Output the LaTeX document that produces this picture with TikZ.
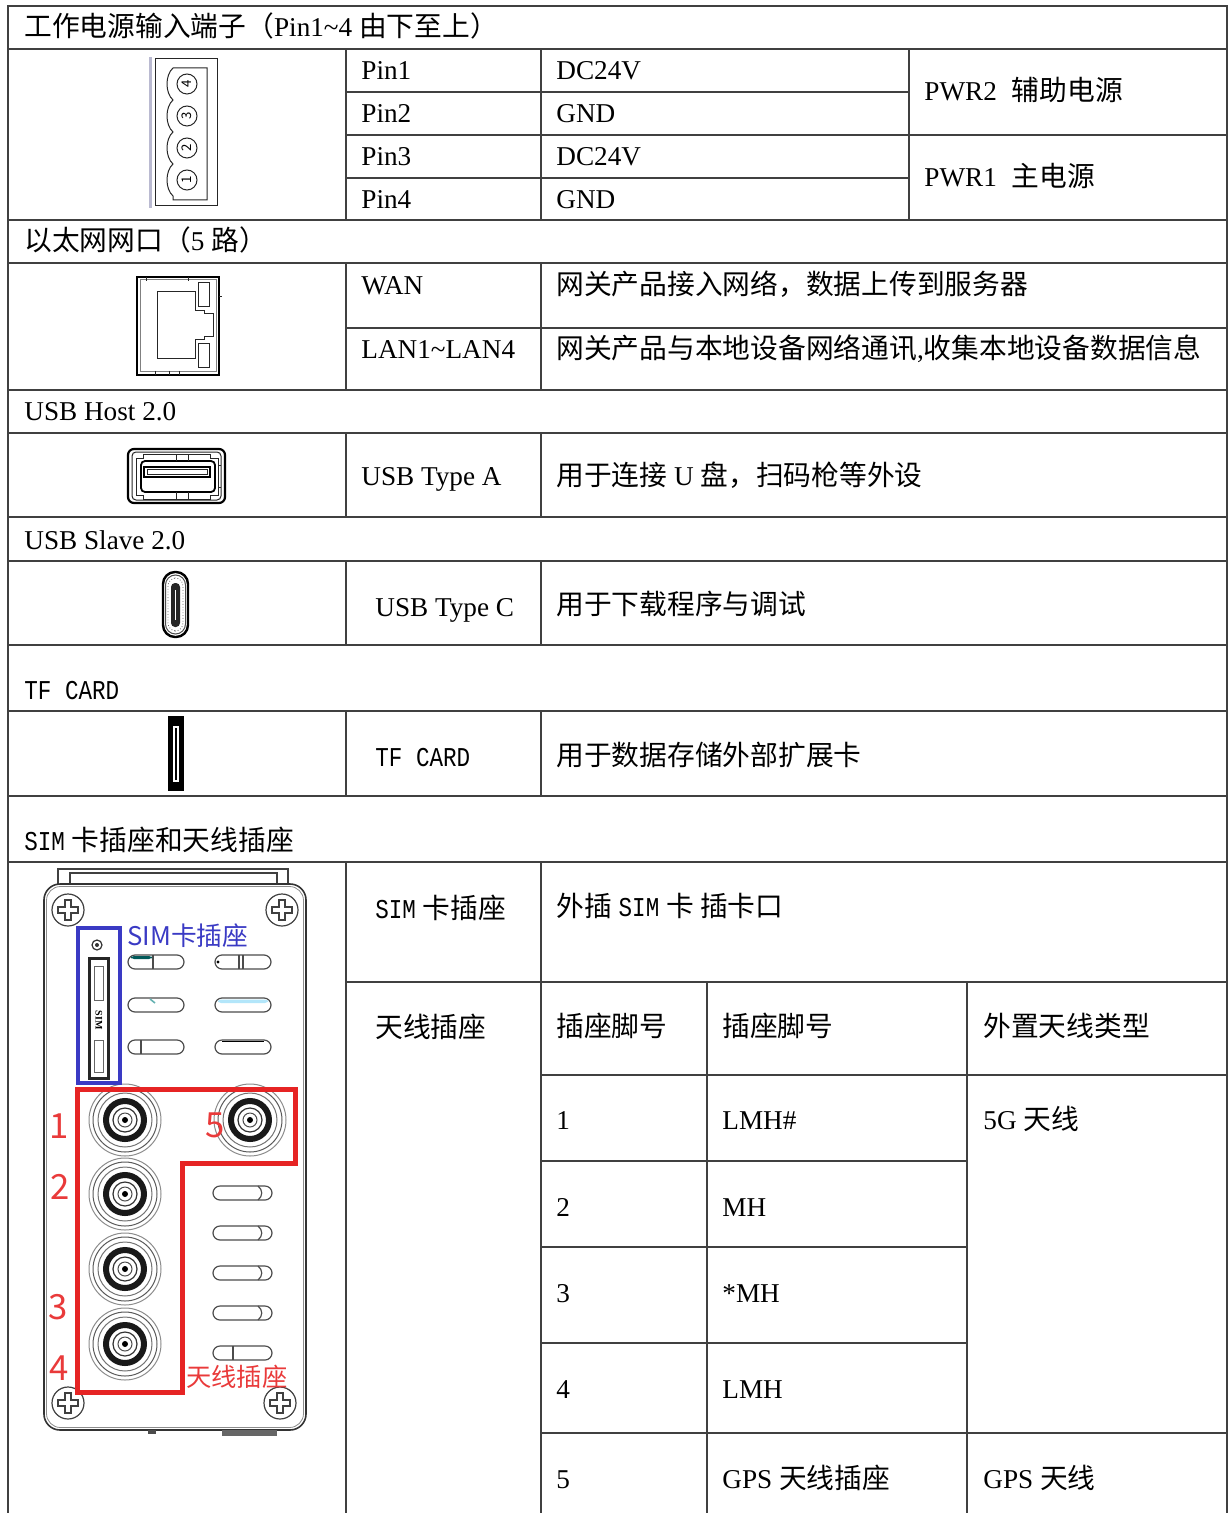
\documentclass[tikz,border=0pt]{standalone}
\usepackage{fontspec}
\setmainfont{Liberation Serif}
\newfontfamily\zhfont[Scale=1.02]{Noto Sans CJK SC}
\newfontfamily\monofont[FakeStretch=0.83]{Liberation Mono}
\newcommand{\zh}[1]{{\zhfont #1}}
\newcommand{\mono}[1]{{\monofont #1}}
\definecolor{simblue}{RGB}{58,58,196}
\definecolor{antred}{RGB}{230,36,36}

\begin{document}
\begin{tikzpicture}[x=0.5pt,y=-0.5pt,
  tabline/.style={black!75, line width=0.75pt},
  txt/.style={anchor=base west, inner sep=0pt, font=\fontsize{13.6}{16}\selectfont},
  icon/.style={black!85, line width=0.5pt},
  dev/.style={black!75, line width=0.6pt},
  slot/.style={black!70, line width=0.6pt, rounded corners=3.5pt},
  redlabel/.style={antred!90, inner sep=0pt, font=\zhfont\fontsize{17}{17}\selectfont}]
\useasboundingbox (0,0) rectangle (1228,1513);

% table rules
\draw[tabline] (8,1513) -- (8,6) -- (1227,6) -- (1227,1513);
\foreach \y in {49,220,263,390,433,517,561,645,711,796,862}
  \draw[tabline] (8,\y) -- (1227,\y);
\foreach \y in {92,178} \draw[tabline] (346,\y) -- (909,\y);
\foreach \y in {135,328,982} \draw[tabline] (346,\y) -- (1227,\y);
\foreach \y in {1075,1433} \draw[tabline] (541,\y) -- (1227,\y);
\foreach \y in {1161,1247,1343} \draw[tabline] (541,\y) -- (967,\y);
\foreach \a/\b in {49/220,263/390,433/517,561/645,711/796,862/1513} {
  \draw[tabline] (346,\a) -- (346,\b);
  \draw[tabline] (541,\a) -- (541,\b);
}
\draw[tabline] (909,49) -- (909,220);
\foreach \x in {707,967} \draw[tabline] (\x,982) -- (\x,1513);

% power
\node[txt] (pwrtitle) at (24,37) {\zh{工作电源输入端子（}Pin1\textasciitilde4 \zh{由下至上）}};
\foreach \n/\v/\y in {1/DC24V/80,2/GND/123,3/DC24V/166,4/GND/209} {
  \node[txt] (pin\n) at (361,\y) {Pin\n};
  \node[txt] (pinv\n) at (556,\y) {\v};
}
\node[txt] (pwr2) at (924,101) {PWR2\hspace{0.55em}\zh{辅助电源}};
\node[txt] (pwr1) at (924,187) {PWR1\hspace{0.55em}\zh{主电源}};

% terminal block
\fill[blue!20!gray!45] (149,57) rectangle (152,208);
\draw[icon] (155,59) rectangle (217,206);
\draw[icon] (207,68) -- (173,68)
  \foreach \y in {84,116,148,180} { .. controls (165,\y-9) and (165,\y+9) .. (173,\y+16) }
  -- (173,200) -- (207,200) -- cycle;
\foreach \n/\y in {4/84,3/116,2/148,1/180} {
  \draw[icon] (187,\y) circle (10);
  \node[rotate=90, inner sep=0pt, font=\zhfont\fontsize{6.5}{6.5}\selectfont] (tdig\n) at (187,\y) {\n};
}

% ethernet
\node[txt] (ethtitle) at (24,251) {\zh{以太网网口（}5 \zh{路）}};
\node[txt] (wan) at (361,295) {WAN};
\node[txt] (wandesc) at (556,295) {\zh{网关产品接入网络，数据上传到服务器}};
\node[txt] (lan) at (361,359) {LAN1\textasciitilde LAN4};
\node[txt] (landesc) at (556,359) {\zh{网关产品与本地设备网络通讯},\zh{收集本地设备数据信息}};

% rj45
\draw[black, line width=1.4pt] (137,277) rectangle (219,375);
\draw[black!50, line width=0.5pt] (140,280) rectangle (216,372);
\draw[icon] (157,292) -- (195,292) -- (195,311) -- (204,311) -- (204,314) -- (213,314)
  -- (213,337) -- (204,337) -- (204,340) -- (195,340) -- (195,359) -- (157,359) -- cycle;
\draw[icon] (198,283) rectangle (209,307);
\draw[icon] (198,344) rectangle (209,368);
\foreach \x in {146,188} \draw[icon] (\x,277) -- (\x,281);
\foreach \x in {155,169,179} \draw[icon] (\x,371) -- (\x,375);
\draw[icon] (219,297) -- (222,297);

% usb host
\node[txt] (hosttitle) at (24,421) {USB Host 2.0};
\node[txt] (typea) at (361,485) {USB Type A};
\node[txt] (typeadesc) at (556,485) {\zh{用于连接} U \zh{盘，扫码枪等外设}};
\draw[black, line width=1.1pt, rounded corners=3pt] (128,449) rectangle (225,503);
\draw[icon, rounded corners=2pt] (132,452) rectangle (221,500);
\draw[icon] (136,458) -- (143,458) -- (143,454) -- (210,454) -- (210,458) -- (218,458)
  -- (218,495) -- (210,495) -- (210,499) -- (143,499) -- (143,495) -- (136,495) -- cycle;
\draw[black, line width=0.9pt, rounded corners=2pt] (141,461) rectangle (215,492);
\draw[black, line width=0.8pt] (144,467) rectangle (210,477);
\draw[icon] (147,469.5) rectangle (207,474.5);
\foreach \x in {176,188} { \draw[icon] (\x,454) -- (\x,461); \draw[icon] (\x,492) -- (\x,499); }
\foreach \y in {465,487} \draw[icon] (218,\y) -- (221,\y);

% usb slave
\node[txt] (slavetitle) at (24,549) {USB Slave 2.0};
\node[txt] (typec) at (375,616) {USB Type C};
\node[txt] (typecdesc) at (556,614) {\zh{用于下载程序与调试}};
\draw[black, line width=1.2pt, rounded corners=6pt] (163,572) rectangle (188,637);
\draw[black!70, line width=0.5pt, rounded corners=5pt] (165.5,575) rectangle (185.5,634);
\draw[black!60, densely dotted, rounded corners=4pt] (168,578) rectangle (183,631);
\fill[black!85, rounded corners=2pt] (171,583) rectangle (180,627);
\draw[white, line width=0.4pt] (175.5,590) -- (175.5,620);

% tf card
\node[txt] (tftitle) at (24,699) {\mono{TF CARD}};
\node[txt] (tf) at (375,766) {\mono{TF CARD}};
\node[txt] (tfdesc) at (556,765) {\zh{用于数据存储外部扩展卡}};
\fill[black] (168,716) rectangle (184,791);
\draw[white, line width=0.6pt] (174,727) rectangle (178,781);

% sim and antenna
\node[txt] (simtitle) at (24,850) {\mono{SIM} \zh{卡插座和天线插座}};
\node[txt] (sim) at (375,918) {\mono{SIM} \zh{卡插座}};
\node[txt] (simdesc) at (556,916) {\zh{外插} \mono{SIM} \zh{卡 插卡口}};
\node[txt] (ant) at (375,1037) {\zh{天线插座}};
\node[txt] (anthead1) at (556,1036) {\zh{插座脚号}};
\node[txt] (anthead2) at (722,1036) {\zh{插座脚号}};
\node[txt] (anthead3) at (983,1036) {\zh{外置天线类型}};
\foreach \n/\v/\y in {1/LMH\#/1129,2/MH/1216,3/*MH/1302,4/LMH/1398} {
  \node[txt] (antno\n) at (556,\y) {\n};
  \node[txt] (antpin\n) at (722,\y) {\v};
}
\node[txt] (antno5) at (556,1488) {5};
\node[txt] (antpin5) at (722,1488) {GPS \zh{天线插座}};
\node[txt] (ant5g) at (983,1129) {5G \zh{天线}};
\node[txt] (antgps) at (983,1488) {GPS \zh{天线}};

% device front
\draw[dev] (58,884) -- (58,869) -- (288,869) -- (288,884);
\draw[dev] (70,884) -- (70,873) -- (277,873) -- (277,884);
\draw[black!80, line width=0.8pt, rounded corners=8pt] (44,884) rectangle (306,1430);
\draw[black!45, line width=0.4pt, rounded corners=7pt] (46.5,886.5) rectangle (303.5,1427.5);
\fill[black!70] (148,1430) rectangle (156,1434);
\fill[black!60] (222,1430) rectangle (277,1436);
\foreach \x/\y in {128/962,128/1005,128/1047,215/962,215/1005,215/1047}
  \draw[slot] (\x,\y-7) rectangle ++(56,14);
\fill[teal!70!black, rounded corners=1.5pt] (131,956) rectangle (152,959);
\draw[slot] (153,955) -- (153,969);
\fill[black] (218,962) circle (1.6);
\draw[slot] (239,955) -- (239,969);
\draw[slot] (243,955) -- (243,969);
\draw[teal!60, line width=0.8pt] (150,999) -- (155,1003);
\fill[cyan!30, rounded corners=1.5pt] (218,999.5) rectangle (268,1003);
\draw[slot] (141,1040) -- (141,1054);
\draw[black, line width=0.9pt] (222,1041.5) -- (264,1041.5);
\foreach \y in {1193,1233,1273,1313,1353}
  \draw[slot] (213,\y-7) rectangle ++(59,14);
\foreach \y in {1193,1233,1273,1313}
  \draw[slot] (258,\y-7) .. controls (263,\y-3) and (263,\y+3) .. (258,\y+7);
\draw[slot] (233,1346) -- (233,1360);
\foreach \x/\y in {125/1120,250/1120,125/1194,125/1269,125/1344} {
  \draw[black!45, line width=0.5pt] (\x,\y) circle (36);
  \draw[black!65, line width=0.5pt] (\x,\y) circle (32);
  \draw[black!55, line width=0.5pt] (\x,\y) circle (27);
  \draw[black!90, line width=3pt] (\x,\y) circle (19);
  \draw[black!80, line width=0.6pt] (\x,\y) circle (12);
  \draw[black!70, line width=0.5pt] (\x,\y) circle (7);
  \fill[black] (\x,\y) circle (3);
}
\foreach \x/\y in {68/910,282/910,68/1403,280/1403} {
  \draw[dev] (\x,\y) circle (16);
  \draw[dev] (\x-3,\y-10) -- ++(6,0) -- ++(0,7) -- ++(7,0) -- ++(0,6) -- ++(-7,0) -- ++(0,7)
    -- ++(-6,0) -- ++(0,-7) -- ++(-7,0) -- ++(0,-6) -- ++(7,0) -- cycle;
}
% sim socket
\draw[black!80, line width=0.6pt] (97,945) circle (5);
\fill[black!80] (97,945) circle (2);
\draw[black!85, line width=1.5pt] (89,958) rectangle (108,1078);
\draw[black!60, line width=0.5pt] (94,966) rectangle (103,1000);
\draw[black!60, line width=0.5pt] (94,1040) rectangle (103,1072);
\node[rotate=-90, inner sep=0pt, font=\bfseries\fontsize{5}{5}\selectfont] (simmark) at (99,1020) {SIM};
\draw[simblue, line width=2pt] (78,928) rectangle (120,1083);
\node[anchor=west, inner sep=0pt, simblue, font=\zhfont\fontsize{12.6}{13}\selectfont] (simlabel) at (127,936) {SIM卡插座};
% antenna frame
\draw[antred, line width=2.5pt] (77,1089) -- (295,1089) -- (295,1163) -- (182,1163)
  -- (182,1392) -- (77,1392) -- cycle;
\node[redlabel] (red1) at (59,1126) {1};
\node[redlabel] (red2) at (60,1187) {2};
\node[redlabel] (red3) at (58,1307) {3};
\node[redlabel] (red4) at (59,1368) {4};
\node[redlabel] (red5) at (215,1125) {5};
\node[anchor=west, inner sep=0pt, antred!90, font=\zhfont\fontsize{12.4}{13}\selectfont] (antlabel) at (186,1377) {天线插座};
\end{tikzpicture}
\end{document}
